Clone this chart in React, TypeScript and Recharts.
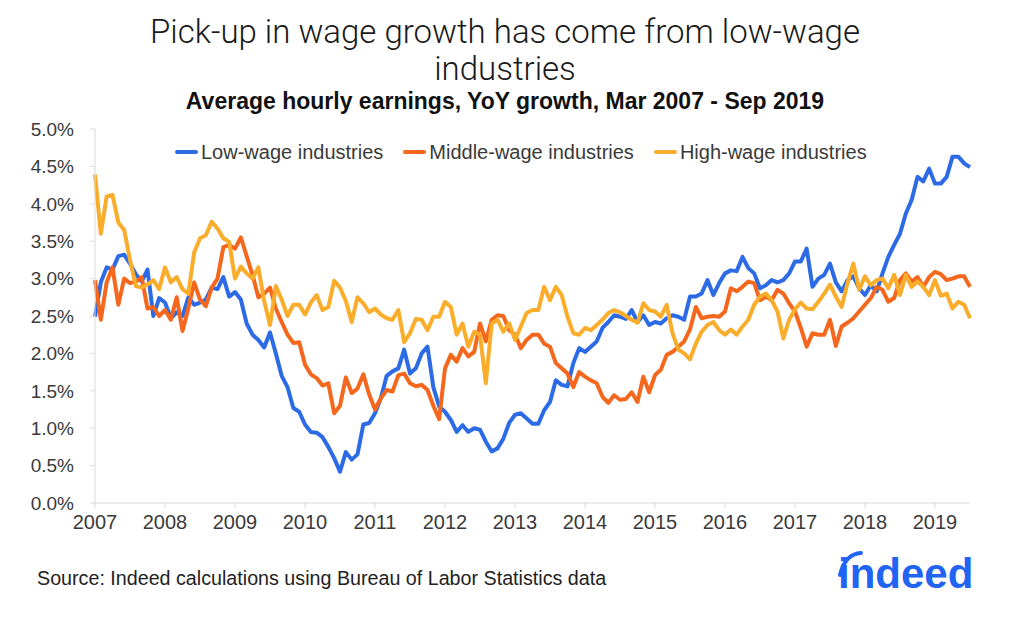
import React from 'react';
import { LineChart, Line, XAxis, YAxis } from 'recharts';

// YoY growth of average hourly earnings (%), monthly, Mar 2007 - Sep 2019
const lowWage = [
  2.49, 2.95, 3.15, 3.12, 3.3, 3.32, 3.2, 3.06, 2.96, 3.12, 2.5, 2.74,
  2.68, 2.47, 2.55, 2.5, 2.75, 2.65, 2.68, 2.72, 2.88, 2.86, 3.02, 2.76,
  2.82, 2.72, 2.4, 2.25, 2.18, 2.08, 2.28, 2.0, 1.7, 1.55, 1.27, 1.22,
  1.05, 0.95, 0.94, 0.88, 0.75, 0.6, 0.42, 0.68, 0.58, 0.65, 1.05, 1.07,
  1.2, 1.4, 1.7, 1.76, 1.8, 2.05, 1.73, 1.8, 2.0, 2.09, 1.55, 1.29,
  1.22, 1.11, 0.95, 1.04, 0.95, 1.0, 0.98, 0.82, 0.69, 0.73, 0.86, 1.07,
  1.18, 1.2, 1.13, 1.06, 1.06, 1.24, 1.35, 1.64, 1.58, 1.56, 1.87, 2.07,
  2.02, 2.09, 2.16, 2.34, 2.42, 2.51, 2.49, 2.46, 2.58, 2.42, 2.51, 2.38,
  2.42, 2.4, 2.47, 2.51, 2.49, 2.45, 2.76, 2.76, 2.8, 2.98, 2.78, 2.94,
  3.07, 3.11, 3.1, 3.29, 3.14, 3.07, 2.87, 2.91, 2.98, 2.95, 2.98, 3.07,
  3.23, 3.23, 3.4, 2.89, 3.0, 3.05, 3.2, 2.95, 2.83, 2.98, 3.03, 2.87,
  2.78, 2.91, 2.83, 3.07, 3.29, 3.45, 3.6, 3.87, 4.05, 4.36, 4.3, 4.47,
  4.27, 4.27, 4.36, 4.63, 4.63, 4.54, 4.49,
];

const middleWage = [
  2.98, 2.45, 2.95, 3.15, 2.65, 3.0, 2.94, 2.96, 3.02, 2.6, 2.62, 2.5,
  2.58, 2.45, 2.75, 2.3, 2.6, 2.95, 2.72, 2.63, 2.88, 3.0, 3.42, 3.45,
  3.4, 3.55, 3.3, 3.05, 2.75, 2.8, 2.88, 2.6, 2.42, 2.25, 2.14, 2.15,
  1.85, 1.72, 1.67, 1.57, 1.6, 1.2, 1.3, 1.68, 1.47, 1.53, 1.72, 1.45,
  1.25, 1.4, 1.51, 1.49, 1.71, 1.73, 1.6, 1.56, 1.58, 1.51, 1.3, 1.12,
  1.8, 1.98, 1.89, 2.07, 1.96, 2.02, 2.4, 2.16, 2.45, 2.51, 2.5, 2.31,
  2.25, 2.07, 2.18, 2.25, 2.25, 2.13, 2.09, 1.87, 1.8, 1.73, 1.55, 1.75,
  1.69, 1.64, 1.6, 1.42, 1.34, 1.44, 1.38, 1.39, 1.48, 1.35, 1.69, 1.48,
  1.71, 1.78, 1.98, 2.02, 2.09, 2.16, 2.32, 2.62, 2.47, 2.49, 2.5, 2.49,
  2.56, 2.87, 2.83, 2.89, 2.96, 2.94, 2.71, 2.76, 2.71, 2.85, 2.8, 2.67,
  2.56, 2.34, 2.09, 2.27, 2.25, 2.25, 2.45, 2.1, 2.36, 2.41, 2.47, 2.56,
  2.65, 2.74, 2.89, 2.85, 2.69, 2.74, 2.98, 3.07, 2.96, 3.02, 2.89, 3.02,
  3.09, 3.06, 2.98, 3.0, 3.03, 3.03, 2.89,
];

const highWage = [
  4.39, 3.6, 4.1, 4.12, 3.75, 3.65, 3.25, 2.9, 2.88, 2.92, 2.98, 2.86,
  3.15, 2.95, 3.02, 2.86, 2.8, 3.35, 3.54, 3.58, 3.76, 3.67, 3.54, 3.49,
  3.0, 3.16, 3.07, 3.0, 3.15, 2.7, 2.38, 2.9, 2.72, 2.5, 2.65, 2.65,
  2.52, 2.68, 2.78, 2.58, 2.62, 2.97, 2.88, 2.7, 2.42, 2.75, 2.67, 2.55,
  2.6, 2.52, 2.47, 2.45, 2.58, 2.15, 2.27, 2.46, 2.45, 2.31, 2.49, 2.49,
  2.69, 2.62, 2.25, 2.4, 2.09, 2.29, 2.25, 1.6, 2.4, 2.45, 2.29, 2.4,
  2.18, 2.36, 2.54, 2.58, 2.58, 2.89, 2.71, 2.89, 2.78, 2.49, 2.27, 2.25,
  2.34, 2.31, 2.38, 2.45, 2.54, 2.58, 2.55, 2.5, 2.45, 2.41, 2.67, 2.58,
  2.56, 2.49, 2.65, 2.27, 2.05, 2.0, 1.92, 2.13, 2.29, 2.38, 2.42, 2.31,
  2.25, 2.32, 2.25, 2.36, 2.45, 2.65, 2.76, 2.8, 2.71, 2.56, 2.2, 2.45,
  2.59, 2.68, 2.6, 2.59, 2.69, 2.8, 2.92, 2.76, 2.62, 2.94, 3.2, 2.85,
  3.03, 2.91, 2.98, 3.0, 2.87, 3.05, 2.78, 3.05, 2.89, 2.96, 2.89, 2.78,
  2.98, 2.77, 2.8, 2.6, 2.69, 2.65, 2.47,
];

const monthNames = ['Jan', 'Feb', 'Mar', 'Apr', 'May', 'Jun', 'Jul', 'Aug', 'Sep', 'Oct', 'Nov', 'Dec'];
const yTicks = [0, 0.5, 1, 1.5, 2, 2.5, 3, 3.5, 4, 4.5, 5];

// Mar 2007 .. Sep 2019
const categories: string[] = [];
for (let k = 0; k < lowWage.length; k++) {
  const m = 2 + k;
  categories.push(monthNames[m % 12] + ' ' + (2007 + Math.floor(m / 12)));
}

const data = categories.map((month, i) => ({
  month,
  low: lowWage[i],
  middle: middleWage[i],
  high: highWage[i],
}));

const series = [
  { key: 'low', name: 'Low-wage industries', color: '#2C6BE5' },
  { key: 'middle', name: 'Middle-wage industries', color: '#F4671D' },
  { key: 'high', name: 'High-wage industries', color: '#FAAD2B' },
];

const font = "'Liberation Sans', Arial, Helvetica, sans-serif";
const axisGrey = '#d9d9d9';
const textGrey = '#3a3a3a';

export default function App() {
  return (
    <div style={{ position: 'absolute', left: 0, top: 0, width: 1024, height: 627, background: '#fff', fontFamily: font }}>
      <div style={{ position: 'absolute', top: 13, left: 0, width: 1010, textAlign: 'center', fontSize: 33, lineHeight: '37px', fontWeight: 300, color: '#1a1a1a', fontFamily: "Roboto, 'Liberation Sans', sans-serif" }}>
        Pick-up in wage growth has come from low-wage
        <br />
        industries
      </div>
      <div style={{ position: 'absolute', top: 88, left: 0, width: 1010, textAlign: 'center', fontSize: 23, lineHeight: '26px', fontWeight: 700, color: '#111' }}>
        Average hourly earnings, YoY growth, Mar 2007 - Sep 2019
      </div>

      <div style={{ position: 'absolute', left: 0, top: 0 }}>
        <LineChart width={1024} height={627} data={data} margin={{ top: 129, right: 54, bottom: 94, left: 35 }} style={{ fontFamily: font }}>
          <XAxis
            dataKey="month"
            interval={11}
            tickFormatter={(v: string) => v.slice(-4)}
            height={30}
            tickSize={5}
            tickMargin={7}
            stroke={axisGrey}
            tick={{ fill: textGrey, fontSize: 20 }}
          />
          <YAxis
            domain={[0, 5]}
            ticks={yTicks}
            width={60}
            tickSize={5}
            tickMargin={16}
            stroke={axisGrey}
            tickFormatter={(v: number) => v.toFixed(1) + '%'}
            tick={{ fill: textGrey, fontSize: 19 }}
          />
          {series.map((s) => (
            <Line
              key={s.key}
              type="linear"
              dataKey={s.key}
              name={s.name}
              stroke={s.color}
              strokeWidth={4}
              strokeLinejoin="round"
              dot={false}
              activeDot={false}
              isAnimationActive={false}
            />
          ))}
        </LineChart>
      </div>

      <div style={{ position: 'absolute', top: 140, left: 175, display: 'flex', alignItems: 'center', fontSize: 20, lineHeight: '24px', color: textGrey }}>
        {series.map((s) => (
          <div key={s.key} style={{ display: 'flex', alignItems: 'center', marginRight: 20 }}>
            <span style={{ display: 'inline-block', width: 23, height: 4, background: s.color, borderRadius: 2, marginRight: 3 }} />
            <span>{s.name}</span>
          </div>
        ))}
      </div>

      <div style={{ position: 'absolute', top: 566, left: 37, fontSize: 19.7, lineHeight: '24px', color: '#222' }}>
        Source: Indeed calculations using Bureau of Labor Statistics data
      </div>

      <svg style={{ position: 'absolute', left: 828, top: 544 }} width={170} height={62}>
        <path d="M 12 31 Q 17 10 33 9" stroke="#2164F3" strokeWidth={4} fill="none" strokeLinecap="round" />
        <text x={10} y={44} fontFamily={font} fontWeight={700} fontSize={42} fill="#2164F3">indeed</text>
      </svg>
    </div>
  );
}
